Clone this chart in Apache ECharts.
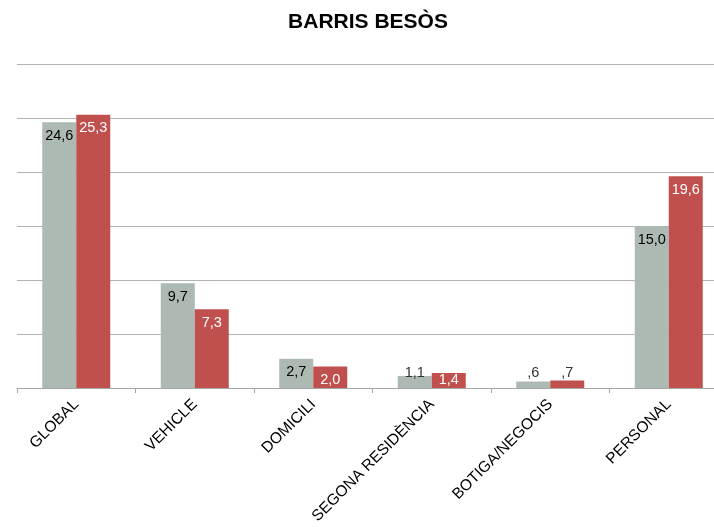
<!DOCTYPE html>
<html>
<head>
<meta charset="utf-8">
<script src="https://cdn.jsdelivr.net/npm/echarts@6/dist/echarts.min.js"></script>
<style>
  html, body { margin: 0; padding: 0; background: #fff; }
  #chart { width: 714px; height: 527px; }
</style>
</head>
<body>
<div id="chart"></div>
<script>
const categories = ['GLOBAL', 'VEHICLE', 'DOMICILI', 'SEGONA RESIDÈNCIA', 'BOTIGA/NEGOCIS', 'PERSONAL'];
const grayValues = [24.6, 9.7, 2.7, 1.1, 0.6, 15.0];
const redValues = [25.3, 7.3, 2.0, 1.4, 0.7, 19.6];

// Excel-style number: comma decimal, no leading zero
function fmt(v) {
  let s = v.toFixed(1).replace('.', ',');
  if (s.startsWith('0')) s = s.slice(1);
  return s;
}

function makeData(values, insideColor) {
  return values.map(function (v) {
    if (v < 1.3) {
      // too short for the text: sits on the baseline like in Excel
      return { value: v, label: { position: 'insideBottom', distance: 8, color: '#333' } };
    }
    if (v < 1.8) {
      return { value: v, label: { position: 'inside', color: insideColor } };
    }
    return { value: v, label: { position: 'insideTop', distance: 6, color: insideColor } };
  });
}

const chart = echarts.init(document.getElementById('chart'));

const labelBase = {
  show: true,
  fontFamily: 'Liberation Sans, Arial, sans-serif',
  fontSize: 14.5,
  formatter: function (p) { return fmt(p.value); }
};

const option = {
  backgroundColor: '#ffffff',
  animation: false,
  title: {
    text: 'BARRIS BESÒS',
    left: 363,
    top: 7,
    textAlign: 'center',
    textStyle: {
      fontFamily: 'Liberation Sans, Arial, sans-serif',
      fontSize: 21,
      fontWeight: 'bold',
      color: '#000'
    }
  },
  grid: {
    left: 17,
    top: 64,
    width: 711,
    height: 324,
    outerBoundsMode: 'none'
  },
  xAxis: {
    type: 'category',
    data: categories,
    axisLine: { lineStyle: { color: '#a6a6a6', width: 1 } },
    axisTick: { show: true, length: 5, lineStyle: { color: '#a6a6a6' } },
    axisLabel: {
      rotate: 45,
      margin: 14,
      interval: 0,
      color: '#000',
      fontFamily: 'Liberation Sans, Arial, sans-serif',
      fontSize: 15.5
    }
  },
  yAxis: {
    type: 'value',
    min: 0,
    max: 30,
    interval: 5,
    axisLine: { show: false },
    axisTick: { show: false },
    axisLabel: { show: false },
    splitLine: { lineStyle: { color: '#b3b3b3', width: 1 } }
  },
  series: [
    {
      type: 'bar',
      data: makeData(grayValues, '#000'),
      barWidth: 34,
      barGap: '0%',
      itemStyle: { color: '#adbab3' },
      label: Object.assign({}, labelBase, { color: '#000' })
    },
    {
      type: 'bar',
      data: makeData(redValues, '#fff'),
      barWidth: 34,
      itemStyle: { color: '#c0504d' },
      label: Object.assign({}, labelBase, { color: '#fff' })
    }
  ]
};

chart.setOption(option);
</script>
</body>
</html>
